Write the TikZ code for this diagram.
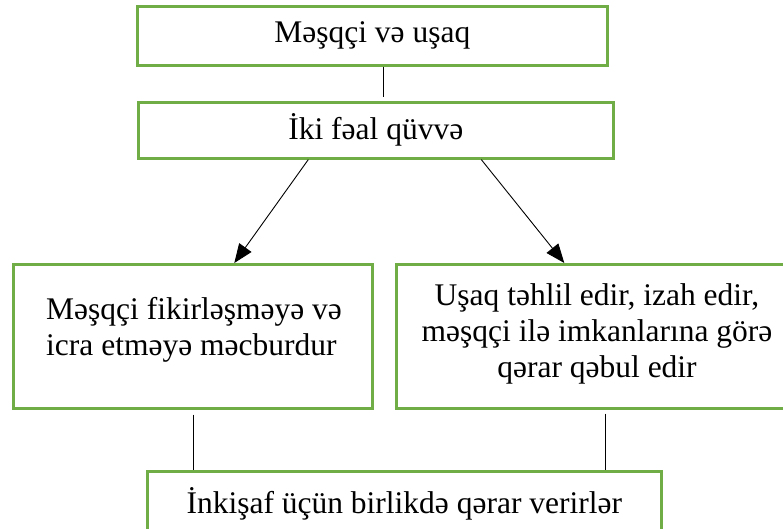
\documentclass[tikz,border=0pt]{standalone}
\usepackage{fontspec}
\setmainfont{Liberation Serif}
\usetikzlibrary{arrows.meta}
\definecolor{boxgreen}{HTML}{70AD47}
\begin{document}
\begin{tikzpicture}[x=1pt,y=-1pt,
  box/.style={draw=boxgreen,line width=2.6pt,rectangle,inner sep=0pt,anchor=north west},
  txt/.style={font=\fontsize{31.5}{36}\selectfont,inner sep=0pt},
  conn/.style={draw=black,line width=0.9pt},
  arr/.style={conn,-{Triangle[length=19pt,width=15pt]}}]
\useasboundingbox (0,0) rectangle (783,529);
\clip (0,0) rectangle (783,529);
\fill[white] (0,0) rectangle (783,529);
% boxes
\node[box,txt,minimum width=470pt,minimum height=59pt] (b1) at (136,5) {Məşqçi və uşaq};
\node[box,txt,minimum width=475pt,minimum height=56pt] (b2) at (137,101) {İki fəal qüvvə};
\node[box,minimum width=359pt,minimum height=144pt] (b3) at (12,263) {};
\node[box,minimum width=404pt,minimum height=144pt] (b4) at (395,263) {};
\node[box,txt,minimum width=514pt,minimum height=66pt] (b5) at (146,470) {İnkişaf üçün birlikdə qərar verirlər};
% box texts
\node[txt,align=left] (t3) at (194,330) {Məşqçi fikirləşməyə və\\icra etməyə məcburdur};
\node[txt,align=center] (t4) at (597,334) {Uşaq təhlil edir, izah edir,\\məşqçi ilə imkanlarına görə\\qərar qəbul edir};
% connectors
\draw[conn] ([xshift=11pt]b1.south) -- ([xshift=7.5pt,yshift=4pt]b2.north);
\draw[arr] ([xshift=-67.5pt]b2.south) -- ([xshift=41.5pt]b3.north);
\draw[arr] ([xshift=105.5pt]b2.south) -- ([xshift=-34pt]b4.north);
\draw[conn] ([xshift=0.5pt,yshift=-5pt]b3.south) -- ([xshift=0.5pt]b3.south |- b5.north);
\draw[conn] ([xshift=7pt,yshift=-4pt]b4.south) -- ([xshift=7pt]b4.south |- b5.north);
\end{tikzpicture}
\end{document}
